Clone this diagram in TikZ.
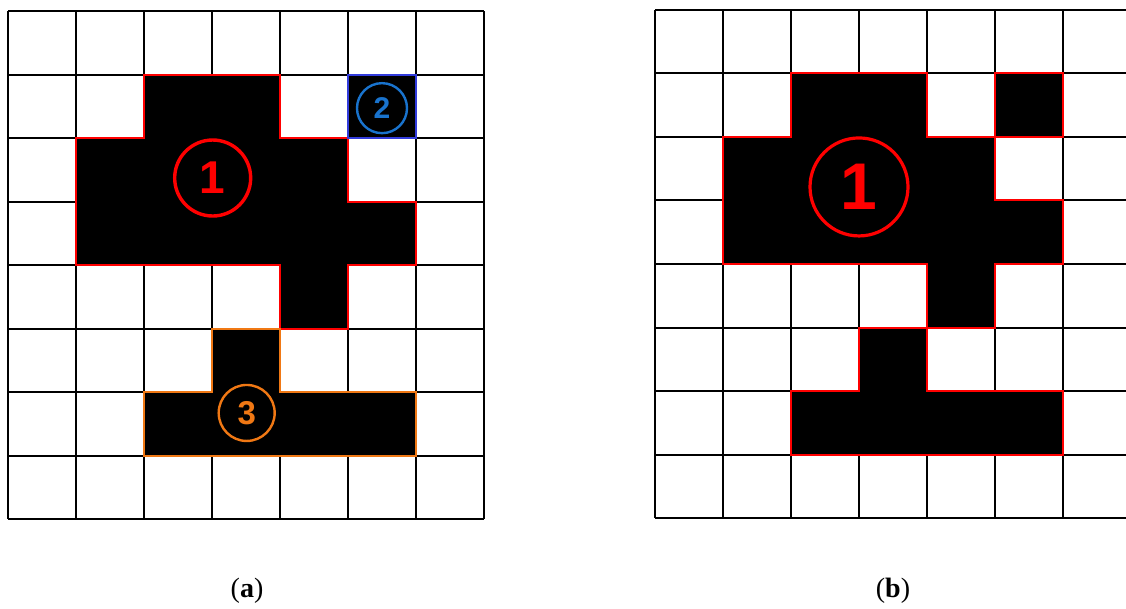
\documentclass[tikz,border=0pt]{standalone}
\usepackage{fontspec}
\setmainfont{Liberation Serif}
\newfontfamily\digitfont{Liberation Sans}
\definecolor{regred}{RGB}{255,0,0}
\definecolor{regblue}{RGB}{50,60,220}
\definecolor{numblue}{RGB}{25,115,205}
\definecolor{regorange}{RGB}{240,120,20}
\begin{document}
\begin{tikzpicture}[x=1pt,y=-1pt,
  gridline/.style={line width=2pt,black},
  region/.style={fill=black,line width=2pt,line join=miter},
  label/.style={circle,draw,inner sep=0pt,font=\digitfont\bfseries},
  caption/.style={font=\fontsize{28}{32}\selectfont}]
\path[use as bounding box] (0,0) rectangle (1126,608);
% ---------- left grid (a)
\begin{scope}[shift={(8pt,-11pt)},x=68pt,y=-63.5pt]
  \foreach \i in {0,...,7} \draw[gridline] (\i,0) -- (\i,8);
  \foreach \j in {0,...,8} \draw[gridline] (0,\j) -- (7,\j);
  \draw[region,draw=regred] (2,1) -- (4,1) -- (4,2) -- (5,2) -- (5,3) -- (6,3) -- (6,4)
     -- (5,4) -- (5,5) -- (4,5) -- (4,4) -- (1,4) -- (1,2) -- (2,2) -- cycle;
  \draw[region,draw=regblue] (5,1) rectangle (6,2);
  \draw[region,draw=regorange] (3,5) -- (4,5) -- (4,6) -- (6,6) -- (6,7) -- (2,7) -- (2,6) -- (3,6) -- cycle;
  \node[label,draw=regred,text=regred,line width=3.4pt,minimum size=76pt,
        font=\digitfont\bfseries\fontsize{46}{46}\selectfont] (a1) at (3.01,2.63) {1};
  \node[label,draw=numblue,text=numblue,line width=2.4pt,minimum size=50pt,
        font=\digitfont\bfseries\fontsize{30}{30}\selectfont] (a2) at (5.5,1.53) {2};
  \node[label,draw=regorange,text=regorange,line width=2.4pt,minimum size=56pt,
        font=\digitfont\bfseries\fontsize{33}{33}\selectfont] (a3) at (3.51,6.33) {3};
\end{scope}
% ---------- right grid (b)
\begin{scope}[shift={(655pt,-9.5pt)},x=68pt,y=-63.6pt]
  \foreach \i in {0,...,6} \draw[gridline] (\i,0) -- (\i,8);
  \foreach \j in {0,...,8} \draw[gridline] (0,\j) -- (6.93,\j);
  \draw[region,draw=regred] (2,1) -- (4,1) -- (4,2) -- (5,2) -- (5,3) -- (6,3) -- (6,4)
     -- (5,4) -- (5,5) -- (4,5) -- (4,4) -- (1,4) -- (1,2) -- (2,2) -- cycle;
  \draw[region,draw=regred] (5,1) rectangle (6,2);
  \draw[region,draw=regred] (3,5) -- (4,5) -- (4,6) -- (6,6) -- (6,7) -- (2,7) -- (2,6) -- (3,6) -- cycle;
  \node[label,draw=regred,text=regred,line width=3.2pt,minimum size=98pt,
        font=\digitfont\bfseries\fontsize{66}{66}\selectfont] (b1) at (3.0,2.79) {1};
\end{scope}
% ---------- captions
\node[caption] (capa) at (247,591) {(\textbf{a})};
\node[caption] (capb) at (893,591) {(\textbf{b})};
\end{tikzpicture}
\end{document}
